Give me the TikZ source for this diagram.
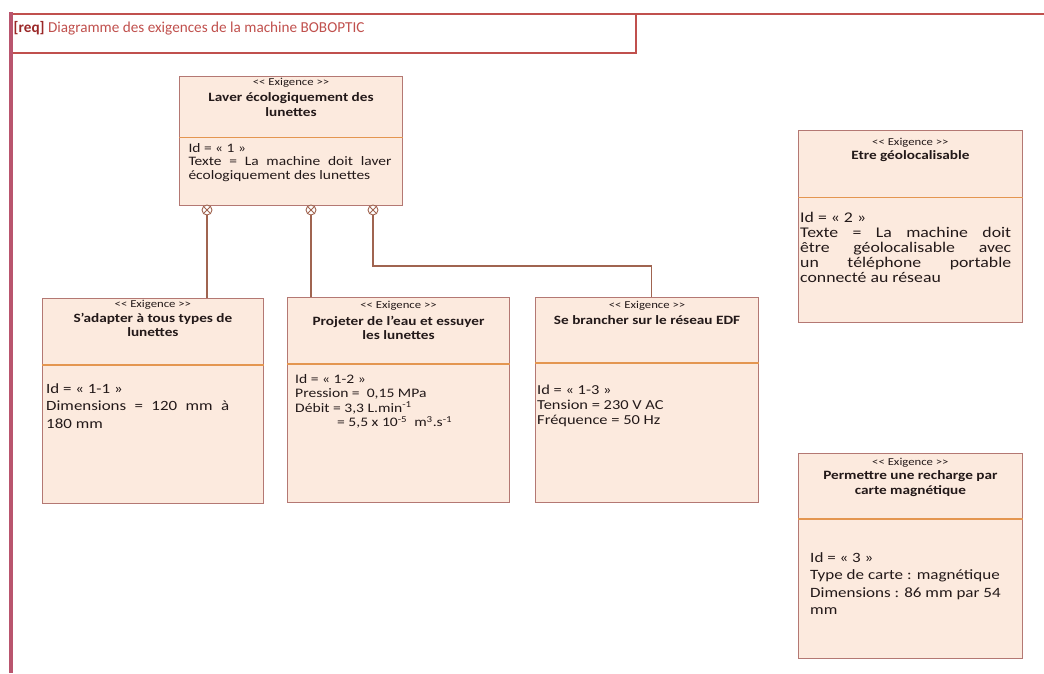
\documentclass[tikz,border=0pt]{standalone}
\usepackage{fontspec}
\setmainfont{Carlito}
\newfontfamily\boxfont[FakeStretch=1.2]{Carlito}
\usetikzlibrary{calc}
\definecolor{boxfill}{RGB}{252,234,222}
\definecolor{boxdraw}{RGB}{180,120,115}
\definecolor{sepcol}{RGB}{228,150,80}
\definecolor{conncol}{RGB}{160,100,80}
\definecolor{framecol}{RGB}{192,80,77}
\definecolor{leftcol}{RGB}{185,85,110}
\definecolor{reqcol}{RGB}{155,40,40}
\definecolor{txt}{RGB}{35,25,25}
\begin{document}
\begin{tikzpicture}[x=1pt,y=-1pt,
  reqbox/.style={draw=boxdraw, fill=boxfill, line width=1.1pt, rectangle, inner sep=0pt, anchor=north west},
  sepline/.style={draw=sepcol, line width=1.1pt},
  stereo/.style={anchor=base, inner sep=0pt, text=txt, font=\boxfont\fontsize{10.6}{12}\selectfont},
  reqtitle/.style={anchor=north, inner sep=0pt, align=center, text=txt, font=\boxfont\bfseries\fontsize{12.7}{14.3}\selectfont},
  reqbody/.style={anchor=north west, inner sep=0pt, text=txt},
  conn/.style={draw=conncol, line width=1.1pt},
  xcirc/.style={circle, draw=conncol, fill=white, line width=0.9pt, minimum size=10pt, inner sep=0pt,
    path picture={\draw[conncol, line width=0.8pt] (path picture bounding box.south west) -- (path picture bounding box.north east) (path picture bounding box.north west) -- (path picture bounding box.south east);}},
  frameline/.style={draw=framecol, line width=2pt}
]
\useasboundingbox (0,0) rectangle (1044,673);

% frame
\draw[frameline] (10,14) -- (1044,14);
\draw[frameline] (10,53) -- (636,53) -- (636,14);
\draw[draw=leftcol, line width=4pt] (10.5,12) -- (10.5,673);
\node[anchor=base west, inner sep=0pt, text=framecol, font=\fontsize{15.2}{18}\selectfont] (ttl) at (13.5,32)
  {\textbf{\color{reqcol}[req]} Diagramme des exigences de la machine BOBOPTIC};

% box 1
\node[reqbox, minimum width=223pt, minimum height=129pt] (r1) at (179,76) {};
\draw[sepline] ($(r1.north west)+(0,61.5)$) -- ($(r1.north east)+(0,61.5)$);
\node[stereo] (r1s) at ($(r1.north)+(0,9.2)$) {<\kern0pt< Exigence >\kern0pt>};
\node[reqtitle] (r1t) at ($(r1.north)+(0,15.7)$) {\strut Laver écologiquement des\\ lunettes};
\node[reqbody, text width=203pt, align=justify, font=\boxfont\fontsize{12.9}{13.5}\selectfont] (r1b) at (188.3,142.5)
  {\strut Id = «~1~»\par Texte = La machine doit laver\linebreak écologiquement des lunettes};

% box 1-1
\node[reqbox, minimum width=221.3pt, minimum height=204.5pt] (r11) at (41.7,298) {};
\draw[sepline] ($(r11.north west)+(0,67)$) -- ($(r11.north east)+(0,67)$);
\node[stereo] (r11s) at ($(r11.north)+(0,9.5)$) {<\kern0pt< Exigence >\kern0pt>};
\node[reqtitle] (r11t) at ($(r11.north)+(0,14.3)$) {\strut S’adapter à tous types de\\ lunettes};
\node[reqbody, text width=183pt, align=justify, font=\boxfont\fontsize{14.1}{17.5}\selectfont] (r11b) at (46,381)
  {\strut Id = «~1-1~»\par Dimensions = 120 mm à\linebreak 180 mm};

% box 1-2
\node[reqbox, minimum width=222pt, minimum height=205pt] (r12) at (287,297) {};
\draw[sepline] ($(r12.north west)+(0,67)$) -- ($(r12.north east)+(0,67)$);
\node[stereo] (r12s) at ($(r12.north)+(0,11.5)$) {<\kern0pt< Exigence >\kern0pt>};
\node[reqtitle] (r12t) at ($(r12.north)+(0,18)$) {\strut Projeter de l’eau et essuyer\\ les lunettes};
\node[reqbody, align=left, font=\boxfont\fontsize{13}{14.5}\selectfont] (r12b) at (295,372.9)
  {\strut Id = «~1-2~»\\ Pression =~~0,15 MPa\\ Débit = 3,3 L.min\textsuperscript{-1}\\ \hspace*{42pt}= 5,5 x 10\textsuperscript{-5}~~m\textsuperscript{3}.s\textsuperscript{-1}};

% box 1-3
\node[reqbox, minimum width=223pt, minimum height=205pt] (r13) at (535,297) {};
\draw[sepline] ($(r13.north west)+(0,66)$) -- ($(r13.north east)+(0,66)$);
\node[stereo] (r13s) at ($(r13.north)+(0,11.5)$) {<\kern0pt< Exigence >\kern0pt>};
\node[reqtitle] (r13t) at ($(r13.north)+(0,17)$) {\strut Se brancher sur le réseau EDF};
\node[reqbody, align=left, font=\boxfont\fontsize{13.7}{15}\selectfont] (r13b) at (537,384)
  {\strut Id = «~1-3~»\\ Tension = 230 V AC\\ Fréquence = 50 Hz};

% box 2
\node[reqbox, minimum width=223.7pt, minimum height=191.7pt] (r2) at (798,130) {};
\draw[sepline] ($(r2.north west)+(0,67.7)$) -- ($(r2.north east)+(0,67.7)$);
\node[stereo] (r2s) at ($(r2.north)+(0,15.5)$) {<\kern0pt< Exigence >\kern0pt>};
\node[reqtitle] (r2t) at ($(r2.north)+(0,19.5)$) {\strut Etre géolocalisable};
\node[reqbody, text width=211pt, align=justify, font=\boxfont\fontsize{14.8}{15}\selectfont] (r2b) at (800,212)
  {\strut Id = «~2~»\par Texte = La machine doit\linebreak être géolocalisable avec\linebreak un téléphone portable\linebreak connecté au réseau};

% box 3
\node[reqbox, minimum width=223.7pt, minimum height=205pt] (r3) at (798,453) {};
\draw[sepline] ($(r3.north west)+(0,66)$) -- ($(r3.north east)+(0,66)$);
\node[stereo] (r3s) at ($(r3.north)+(0,12)$) {<\kern0pt< Exigence >\kern0pt>};
\node[reqtitle, font=\boxfont\bfseries\fontsize{12.7}{15}\selectfont] (r3t) at ($(r3.north)+(0,15.5)$) {\strut Permettre une recharge par\\ carte magnétique};
\node[reqbody, align=left, font=\boxfont\fontsize{14.2}{17.5}\selectfont] (r3b) at (810,549.7)
  {\strut Id = «~3~»\\ Type de carte : magnétique\\ Dimensions : 86 mm par 54\\ mm};

% connectors
\node[xcirc] (k1) at (207,210) {};
\node[xcirc] (k2) at (311,210) {};
\node[xcirc] (k3) at (373,210) {};
\draw[conn] (k1.south) -- (k1.south |- r11.north);
\draw[conn] (k2.south) -- (k2.south |- r12.north);
\coordinate (bend) at (651.5,266);
\draw[conn] (k3.south) |- (bend) -- (bend |- r13.north);
\end{tikzpicture}
\end{document}
